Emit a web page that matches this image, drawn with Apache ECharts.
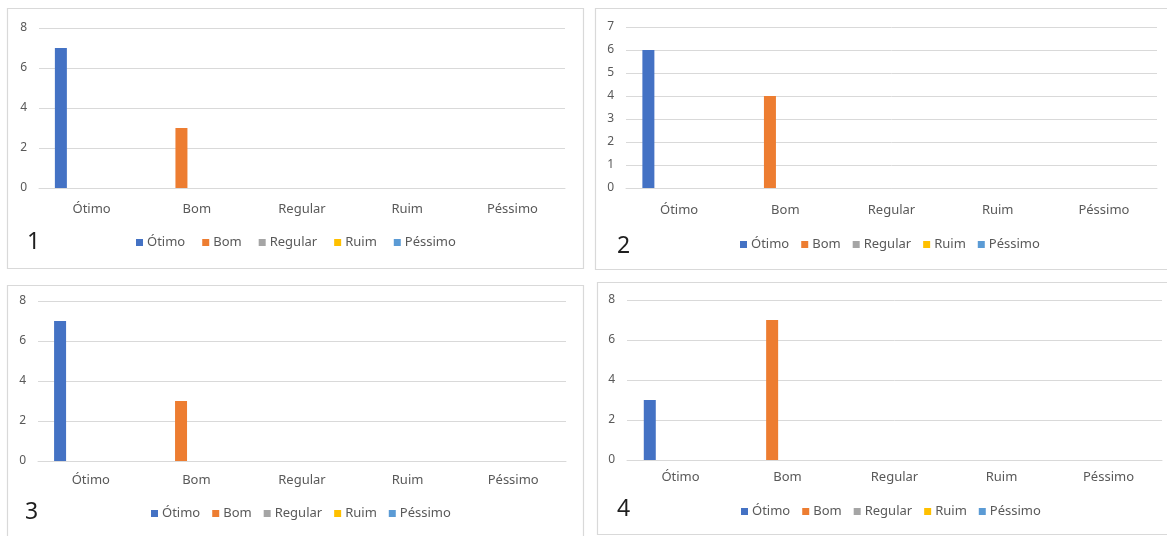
<!DOCTYPE html>
<html>
<head>
<meta charset="utf-8">
<script src="https://cdn.jsdelivr.net/npm/echarts@6/dist/echarts.min.js"></script>
<style>
html,body{margin:0;padding:0;background:#fff;}
#c{width:1167px;height:536px;}
</style>
</head>
<body>
<div id="c"></div>
<script>
// Data
const categories = ['Ótimo', 'Bom', 'Regular', 'Ruim', 'Péssimo'];
const seriesNames = ['Ótimo', 'Bom', 'Regular', 'Ruim', 'Péssimo'];
// value of each series (in its own category) for the four charts
const chart1Values = [7, 3, 0, 0, 0];
const chart2Values = [6, 4, 0, 0, 0];
const chart3Values = [7, 3, 0, 0, 0];
const chart4Values = [3, 7, 0, 0, 0];
const chartLabels = ['1', '2', '3', '4'];
const yMax = [8, 7, 8, 8];
const yInterval = [2, 1, 2, 2];

const colors = ['#4472C4', '#ED7D31', '#A5A5A5', '#FFC000', '#5B9BD5'];
const allValues = [chart1Values, chart2Values, chart3Values, chart4Values];

// Layout
const grids = [
  {left: 39, top: 28, width: 526, height: 160},
  {left: 626, top: 27, width: 531, height: 161},
  {left: 38, top: 301, width: 528, height: 160},
  {left: 627, top: 300, width: 535, height: 160}
];
const labelMargins = [15, 16, 13, 11];
const legendPos = [
  {left: 136, top: 236, gap: 17},
  {left: 740, top: 238, gap: 12},
  {left: 151, top: 507, gap: 12},
  {left: 741, top: 505, gap: 12}
];
const numberPos = [[27, 242], [617, 246], [25, 512], [617, 509]];
const panels = [
  [7.5, 8.5, 576, 260],
  [595.5, 8.5, 580, 261],
  [7.5, 285.5, 576, 262],
  [597.5, 282.5, 580, 252]
];

const FONT = '"Noto Sans", "Open Sans", sans-serif';
const TXT = '#595959';
const GRID_COLOR = '#D9D9D9';

const option = {
  backgroundColor: '#ffffff',
  animation: false,
  color: colors,
  grid: grids.map(g => Object.assign({containLabel: false}, g)),
  xAxis: grids.map((g, i) => ({
    type: 'category',
    gridIndex: i,
    data: categories,
    axisTick: {show: false},
    axisLine: {show: true, lineStyle: {color: GRID_COLOR, width: 1}},
    axisLabel: {color: TXT, fontSize: 13, fontFamily: FONT, margin: labelMargins[i]}
  })),
  yAxis: grids.map((g, i) => ({
    type: 'value',
    gridIndex: i,
    min: 0,
    max: yMax[i],
    interval: yInterval[i],
    axisLine: {show: false},
    axisTick: {show: false},
    splitLine: {lineStyle: {color: GRID_COLOR, width: 1}},
    axisLabel: {color: TXT, fontSize: 12, fontFamily: FONT, margin: 12}
  })),
  legend: legendPos.map(p => ({
    left: p.left,
    top: p.top,
    orient: 'horizontal',
    padding: 0,
    itemWidth: 7,
    itemHeight: 7,
    itemGap: p.gap,
    icon: 'rect',
    selectedMode: false,
    data: seriesNames,
    textStyle: {color: TXT, fontSize: 13, fontFamily: FONT, padding: [0, 0, 0, -1]}
  })),
  series: [],
  graphic: []
};

allValues.forEach((vals, gi) => {
  seriesNames.forEach((name, si) => {
    option.series.push({
      type: 'bar',
      name: name,
      xAxisIndex: gi,
      yAxisIndex: gi,
      barWidth: 12,
      barGap: '28%',
      itemStyle: {color: colors[si]},
      data: categories.map((c, ci) => (ci === si ? vals[si] : 0))
    });
  });
});

panels.forEach(p => {
  option.graphic.push({
    type: 'rect',
    silent: true,
    z: -1,
    shape: {x: p[0], y: p[1], width: p[2], height: p[3]},
    style: {fill: 'none', stroke: GRID_COLOR, lineWidth: 1.2}
  });
});

chartLabels.forEach((t, i) => {
  option.graphic.push({
    type: 'text',
    silent: true,
    x: numberPos[i][0],
    y: numberPos[i][1],
    style: {
      text: t,
      fill: '#1f1f1f',
      font: '23px ' + FONT,
      textVerticalAlign: 'middle',
      verticalAlign: 'middle'
    }
  });
});

const chart = echarts.init(document.getElementById('c'), null, {renderer: 'canvas'});
chart.setOption(option);
</script>
</body>
</html>
